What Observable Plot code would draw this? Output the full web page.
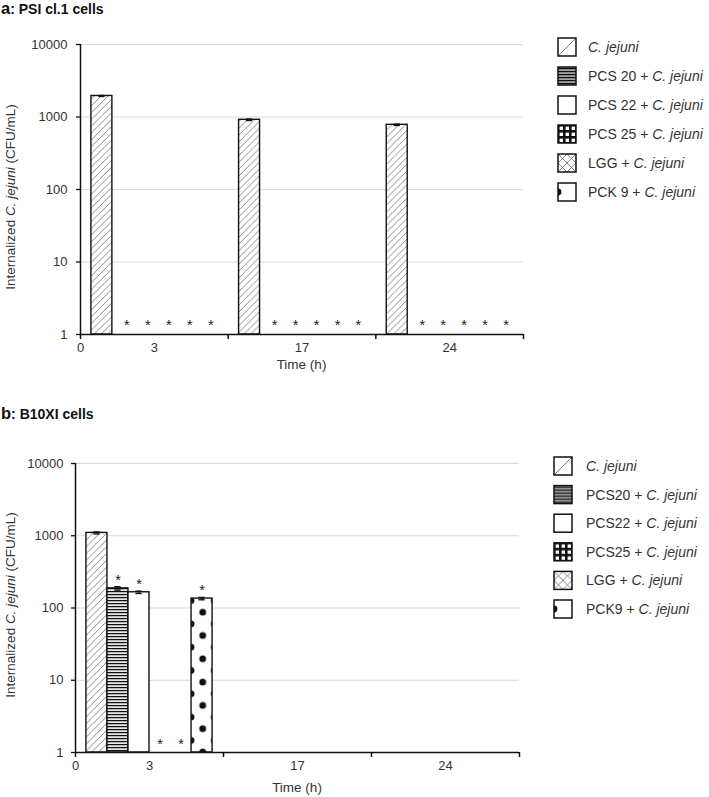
<!DOCTYPE html>
<html><head><meta charset="utf-8">
<script src="https://cdn.jsdelivr.net/npm/d3@7"></script>
<script src="https://cdn.jsdelivr.net/npm/@observablehq/plot@0.6"></script>
<style>
body{margin:0;background:#fff;font-family:"Liberation Sans",Arial,sans-serif;}
#wrap{position:relative;width:709px;height:797px;overflow:hidden;background:#fff;}
.panel{position:absolute;left:0;}
.title{position:absolute;left:1px;font-weight:bold;color:#111;font-size:14px;line-height:17px;white-space:nowrap;z-index:2;}
.title .p{font-size:16.5px;}
</style></head><body><div id="wrap">
<div id="pa" class="panel" style="top:0px"></div>
<div id="pb" class="panel" style="top:395px"></div>
<div class="title" style="top:0px"><span class="p">a</span>: PSI cl.1 cells</div>
<div class="title" style="top:405px"><span class="p">b</span>: B10XI cells</div>
</div>
<script>
// ---- data ----
const times = ["3", "17", "24"];
const seriesIds = ["cj", "pcs20", "pcs22", "pcs25", "lgg", "pck9"];
const legendA = ["C. jejuni", "PCS 20 + C. jejuni", "PCS 22 + C. jejuni", "PCS 25 + C. jejuni", "LGG + C. jejuni", "PCK 9 + C. jejuni"];
const legendB = ["C. jejuni", "PCS20 + C. jejuni", "PCS22 + C. jejuni", "PCS25 + C. jejuni", "LGG + C. jejuni", "PCK9 + C. jejuni"];
const yTicks = [1, 10, 100, 1000, 10000];
// rows: time (3, 17, 24); columns: series in seriesIds order
const valuesA = [[1950, 0, 0, 0, 0, 0], [915, 0, 0, 0, 0, 0], [780, 0, 0, 0, 0, 0]];
const errorsA = [[30, 0, 0, 0, 0, 0], [20, 0, 0, 0, 0, 0], [15, 0, 0, 0, 0, 0]];
const starsA  = [[0, 1, 1, 1, 1, 1], [0, 1, 1, 1, 1, 1], [0, 1, 1, 1, 1, 1]];
const valuesB = [[1094, 187, 165, 0, 0, 135], [null, null, null, null, null, null], [null, null, null, null, null, null]];
const errorsB = [[35, 10, 6, 0, 0, 5], [0, 0, 0, 0, 0, 0], [0, 0, 0, 0, 0, 0]];
const starsB  = [[0, 1, 1, 1, 1, 1], [0, 0, 0, 0, 0, 0], [0, 0, 0, 0, 0, 0]];

// ---- helpers ----
const PAD = 0.52, N = seriesIds.length, STEP = 1 / (N + 2 * PAD);
function buildRows(values, errors, stars) {
  const rows = [];
  times.forEach((t, ti) => seriesIds.forEach((s, si) => {
    const x1 = ti + (PAD + si) * STEP;
    rows.push({time: t, sid: s, value: values[ti][si], err: errors[ti][si], star: !!stars[ti][si],
      x1, x2: x1 + STEP, xc: x1 + STEP / 2});
  }));
  return rows;
}

function addDefs(svg, pre, pckX, pckY) {
  const defs = svg.insert("defs", ":first-child");
  const pat = (id, w, h, attrs = {}) => {
    const p = defs.append("pattern").attr("id", pre + id).attr("patternUnits", "userSpaceOnUse")
      .attr("width", w).attr("height", h);
    for (const k in attrs) p.attr(k, attrs[k]);
    p.append("rect").attr("width", w).attr("height", h).attr("fill", "white");
    return p;
  };
  // bars
  let p = pat("cj", 6.8, 6.8);
  p.append("path").attr("d", "M-1,1 l2,-2 M0,6.8 l6.8,-6.8 M5.8,7.8 l2,-2").attr("stroke", "#6a6a6a").attr("stroke-width", 0.8);
  p = pat("pcs20", 3, 3);
  p.append("rect").attr("y", 0.9).attr("width", 3).attr("height", 1.4).attr("fill", "#111");
  pat("pcs22", 4, 4);
  p = pat("pcs25", 5.5, 5.5);
  p.select("rect").attr("fill", "#111");
  p.append("rect").attr("x", 1.3).attr("y", 1.3).attr("width", 3.2).attr("height", 3.2).attr("fill", "white");
  p = pat("lgg", 9, 9);
  p.append("path").attr("d", "M0,0 L9,9 M9,0 L0,9").attr("stroke", "#6a6a6a").attr("stroke-width", 0.8);
  const d = 23.3;
  p = pat("pck9", d, d, {x: pckX, y: pckY});
  [[d / 2, 0], [d / 2, d], [0, d / 2], [d, d / 2]].forEach(([cx, cy]) =>
    p.append("circle").attr("cx", cx).attr("cy", cy).attr("r", 3.4).attr("fill", "#111"));
  // legend variants
  p = pat("L-cj", 18, 18);
  p.append("path").attr("d", "M0,18 L18,0").attr("stroke", "#6a6a6a").attr("stroke-width", 0.9);
  p = pat("L-pcs20", 18, 3);
  p.append("rect").attr("y", 0.6).attr("width", 18).attr("height", 1.9).attr("fill", "#111");
  pat("L-pcs22", 18, 18);
  p = pat("L-pcs25", 6, 6);
  p.select("rect").attr("fill", "#111");
  p.append("rect").attr("x", 1.6).attr("y", 1.6).attr("width", 3.4).attr("height", 3.4).attr("fill", "white");
  p = pat("L-lgg", 9, 9);
  p.append("path").attr("d", "M0,0 L9,9 M9,0 L0,9").attr("stroke", "#6a6a6a").attr("stroke-width", 0.8);
  p = pat("L-pck9", 40, 40);
  p.append("circle").attr("cx", 0).attr("cy", 9).attr("r", 3.4).attr("fill", "#111");
}

function addLegend(svg, pre, labels, lx, ly0, step, tx) {
  const g = svg.append("g").attr("font-size", 14).attr("fill", "#333").attr("text-anchor", "start")
    .attr("font-family", "Liberation Sans, Arial, sans-serif");
  labels.forEach((lab, i) => {
    const cy = ly0 + i * step;
    const gi = g.append("g").attr("transform", `translate(${lx},${cy - 9})`);
    gi.append("rect").attr("width", 18).attr("height", 18).attr("fill", `url(#${pre}L-${seriesIds[i]})`)
      .attr("stroke", "#111").attr("stroke-width", 1.5);
    const t = g.append("text").attr("x", tx).attr("y", cy + 5).attr("text-anchor", "start");
    const parts = lab.split("C. jejuni");
    if (parts[0]) t.append("tspan").text(parts[0]);
    t.append("tspan").attr("font-style", "italic").text("C. jejuni");
  });
}

function panel(el, pre, values, errors, stars, legend, o) {
  const rows = buildRows(values, errors, stars);
  const bars = rows.filter(d => d.value > 0);
  const zeroStars = rows.filter(d => d.star && !(d.value > 0));
  const barStars = rows.filter(d => d.star && d.value > 0);
  const capH = STEP * 0.15;
  const chart = Plot.plot({
    width: 709, height: o.height,
    marginLeft: o.ml, marginRight: o.mr, marginTop: o.mt, marginBottom: o.mb,
    style: {fontFamily: "Liberation Sans, Arial, sans-serif", fontSize: "13px", color: "#333", background: "transparent", overflow: "visible"},
    x: {domain: [0, times.length]},
    y: {type: "log", domain: [1, 10000]},
    color: {type: "identity"},
    marks: [
      Plot.gridY(yTicks.slice(1), {stroke: "#d9d9d9", strokeOpacity: 1, strokeWidth: 1}),
      Plot.rect(bars, {x1: "x1", x2: "x2", y1: () => 1, y2: "value", fill: d => `url(#${pre}${d.sid})`, stroke: "#111", strokeWidth: 1.4}),
      Plot.ruleX(bars, {x: "xc", y1: d => d.value - d.err, y2: d => d.value + d.err, stroke: "#111", strokeWidth: 1.2}),
      Plot.ruleY(bars, {y: d => d.value + d.err, x1: d => d.xc - capH, x2: d => d.xc + capH, stroke: "#111", strokeWidth: 1.4}),
      Plot.ruleY(bars, {y: d => d.value - d.err, x1: d => d.xc - capH, x2: d => d.xc + capH, stroke: "#111", strokeWidth: 1.4}),
      Plot.text(zeroStars, {x: "xc", y: () => 1, text: () => "*", fontSize: 14.5, fill: "#222", dy: o.starDy, dx: o.starDx}),
      Plot.text(barStars, {x: "xc", y: "value", text: () => "*", fontSize: 14.5, fill: "#222", dy: -8}),
      Plot.axisY(yTicks, {tickSize: 4, tickPadding: o.tp, tickFormat: d => String(d), label: null, fontSize: 13, stroke: "#111", strokeWidth: 1.3}),
      Plot.axisX([0, 1, 2, 3], {tickSize: 5, tickPadding: 3, tickFormat: d => d === 0 ? "0" : "", label: null, fontSize: 13, stroke: "#111", strokeWidth: 1.5}),
      Plot.axisX(times.map((t, i) => i + 0.5), {tickSize: 0, tickPadding: 8, tickFormat: d => times[Math.floor(d)], label: null, fontSize: 13}),
      Plot.ruleX([0], {stroke: "#111", strokeWidth: 1.5}),
      Plot.ruleY([1], {stroke: "#111", strokeWidth: 1.5})
    ]
  });
  const xs = chart.scale("x"), ys = chart.scale("y");
  const pck = rows.find(d => d.sid === "pck9");
  const svg = d3.select(chart);
  addDefs(svg, pre, xs.apply(pck.x1), ys.apply(1));
  // axis titles
  const x0 = xs.apply(0), x3 = xs.apply(times.length);
  svg.append("text").attr("x", (x0 + x3) / 2).attr("y", o.xlabY).attr("text-anchor", "middle")
    .attr("font-size", 13.5).attr("fill", "#333").text("Time (h)");
  const yl = svg.append("text").attr("transform", `translate(15,${o.ylabY}) rotate(-90)`)
    .attr("text-anchor", "middle").attr("font-size", 13.5).attr("fill", "#333");
  yl.append("tspan").text("Internalized ");
  yl.append("tspan").attr("font-style", "italic").text("C. jejuni");
  yl.append("tspan").text(" (CFU/mL)");
  addLegend(svg, pre, legend, o.lx, o.ly, o.lstep, o.ltx);
  document.getElementById(el).appendChild(chart);
}

panel("pa", "a-", valuesA, errorsA, starsA, legendA,
  {height: 380, ml: 80, mr: 186, mt: 44, mb: 46, tp: 9, starDy: -9, starDx: 4, xlabY: 369, ylabY: 197,
   lx: 558, ly: 47, lstep: 29, ltx: 588});
panel("pb", "b-", valuesB, errorsB, starsB, legendB,
  {height: 402, ml: 75, mr: 190, mt: 68, mb: 45, tp: 8, starDy: -8, starDx: 0, xlabY: 397, ylabY: 210,
   lx: 554, ly: 71, lstep: 28.6, ltx: 586});
</script>
</body></html>
